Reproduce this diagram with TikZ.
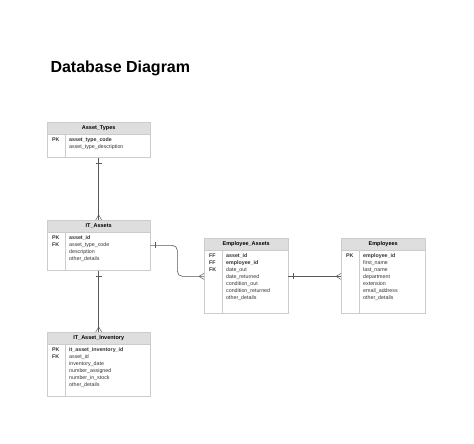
\documentclass[tikz,border=0pt]{standalone}
\usepackage{fontspec}
\setmainfont{Liberation Sans}
\usetikzlibrary{positioning,calc}

\tikzset{
    hdr/.style={rectangle, draw=black!20, fill=black!13, minimum height=12pt, inner sep=0pt, font=\fontsize{5.5}{7}\selectfont\bfseries},
    tbody/.style={rectangle, draw=black!20, fill=white, inner sep=0pt},
    fieldtxt/.style={align=left, inner sep=0pt, font=\fontsize{5.3}{7}\selectfont, text=black!80},
    rel/.style={draw=black!65, line width=0.6pt},
    endmark/.style={draw=black!65, line width=0.5pt}
}

% one entity table: name, x, y, width, body height, title, keys, fields
\newcommand{\erbox}[8]{
    \node[hdr, minimum width=#4pt, anchor=north west] (#1-h) at (#2,#3) {#6};
    \node[tbody, minimum width=#4pt, minimum height=#5pt, anchor=north west] (#1) at (#1-h.south west) {};
    \draw[draw=black!20] ($(#1.north west)+(18,0)$) -- ($(#1.south west)+(18,0)$);
    \node[fieldtxt, anchor=north west, font=\fontsize{5.3}{7}\selectfont\bfseries] at ($(#1.north west)+(5,3)$) {#7};
    \node[fieldtxt, anchor=north west] at ($(#1.north west)+(22,3)$) {#8};
}

\begin{document}
\begin{tikzpicture}[x=1pt, y=-1pt]
\useasboundingbox[fill=white] (0,0) rectangle (474,444);

\node[anchor=west, font=\fontsize{16}{18}\selectfont\bfseries] (title) at (47,68) {Database Diagram};

\erbox{at}{47}{122}{103}{23}{Asset\_Types}{PK}{\textbf{asset\_type\_code}\\asset\_type\_description}
\erbox{it}{47}{220}{103}{38}{IT\_Assets}{PK\\FK}{\textbf{asset\_id}\\asset\_type\_code\\description\\other\_details}
\erbox{inv}{47}{332}{103}{52}{IT\_Asset\_Inventory}{PK\\FK}{\textbf{it\_asset\_inventory\_id}\\asset\_id\\inventory\_date\\number\_assigned\\number\_in\_stock\\other\_details}
\erbox{ea}{204}{238}{84}{63}{Employee\_Assets}{FF\\FF\\FK}{\textbf{asset\_id}\\\textbf{employee\_id}\\date\_out\\date\_returned\\condition\_out\\condition\_returned\\other\_details}
\erbox{emp}{341}{238}{84}{63}{Employees}{PK}{\textbf{employee\_id}\\first\_name\\last\_name\\department\\extension\\email\_address\\other\_details}

% Asset_Types -> IT_Assets
\draw[rel] (at.south) -- (it-h.north);
\draw[endmark] ($(at.south)+(-3,5)$) -- ++(6,0);
\draw[endmark] ($(it-h.north)+(0,-5)$) -- ++(-3,5) ($(it-h.north)+(0,-5)$) -- ++(3,5);

% IT_Assets -> IT_Asset_Inventory
\draw[rel] (it.south) -- (inv-h.north);
\draw[endmark] ($(it.south)+(-3,5)$) -- ++(6,0);
\draw[endmark] ($(inv-h.north)+(0,-5)$) -- ++(-3,5) ($(inv-h.north)+(0,-5)$) -- ++(3,5);

% IT_Assets -> Employee_Assets
\coordinate (it-r) at ($(it.north east)+(0,13)$);
\coordinate (ea-l) at ($(ea.north west)+(0,26)$);
\draw[rel, rounded corners=5pt] (it-r) -- ++(27,0) |- (ea-l);
\draw[endmark] ($(it-r)+(5,-3)$) -- ++(0,6);
\draw[endmark] ($(ea-l)+(-5,0)$) -- ++(5,-3) ($(ea-l)+(-5,0)$) -- ++(5,3);

% Employees -> Employee_Assets
\coordinate (ea-r) at ($(ea.north east)+(0,26)$);
\coordinate (emp-l) at ($(emp.north west)+(0,26)$);
\draw[rel] (ea-r) -- (emp-l);
\draw[endmark] ($(ea-r)+(5,-3)$) -- ++(0,6);
\draw[endmark] ($(emp-l)+(-5,0)$) -- ++(5,-3) ($(emp-l)+(-5,0)$) -- ++(5,3);
\end{tikzpicture}
\end{document}
